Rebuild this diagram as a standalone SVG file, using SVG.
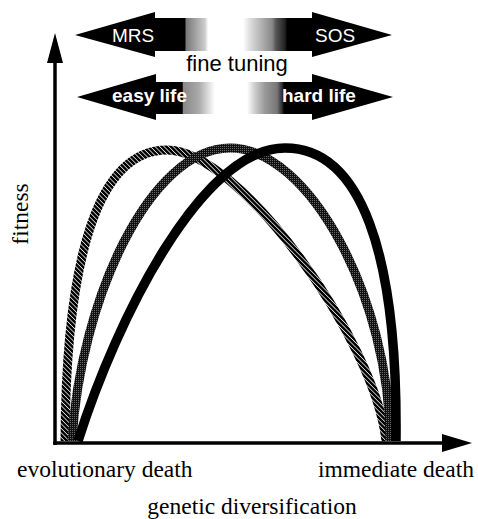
<svg xmlns="http://www.w3.org/2000/svg" width="478" height="519" viewBox="0 0 478 519">
<style>
.sans{font-family:"Liberation Sans",Arial,sans-serif}
.serif{font-family:"Liberation Serif","Times New Roman",serif;font-size:23.5px;fill:#000}
.wt{fill:#fff;font-size:19px}
.bw{fill:#fff;font-size:19px;font-weight:bold}
.axis{stroke:#000;stroke-width:3.5;fill:none}
.curve{fill:none;stroke-linecap:butt}
</style>
<defs>
<linearGradient id="g1" gradientUnits="userSpaceOnUse" x1="75" y1="0" x2="392" y2="0">
<stop offset="0" stop-color="#000"/>
<stop offset="0.3470" stop-color="#000"/>
<stop offset="0.3502" stop-color="#777"/>
<stop offset="0.4100" stop-color="#ccc"/>
<stop offset="0.4200" stop-color="#fff"/>
<stop offset="0.5300" stop-color="#fff"/>
<stop offset="0.5520" stop-color="#ddd"/>
<stop offset="0.6220" stop-color="#888"/>
<stop offset="0.6340" stop-color="#555"/>
<stop offset="0.6620" stop-color="#222"/>
<stop offset="0.6700" stop-color="#000"/>
<stop offset="1" stop-color="#000"/>
</linearGradient>
<linearGradient id="g2" gradientUnits="userSpaceOnUse" x1="77" y1="0" x2="393" y2="0">
<stop offset="0" stop-color="#000"/>
<stop offset="0.3330" stop-color="#000"/>
<stop offset="0.3365" stop-color="#888"/>
<stop offset="0.3860" stop-color="#aaa"/>
<stop offset="0.4360" stop-color="#fff"/>
<stop offset="0.5380" stop-color="#fff"/>
<stop offset="0.5630" stop-color="#ccc"/>
<stop offset="0.5950" stop-color="#999"/>
<stop offset="0.6330" stop-color="#777"/>
<stop offset="0.6480" stop-color="#333"/>
<stop offset="0.6560" stop-color="#000"/>
<stop offset="1" stop-color="#000"/>
</linearGradient>
<pattern id="hatch" patternUnits="userSpaceOnUse" width="3.2" height="3.2" patternTransform="rotate(-45)">
<rect width="3.2" height="3.2" fill="#ddd"/>
<rect width="2.4" height="3.2" fill="#000"/>
</pattern>
<pattern id="stip" patternUnits="userSpaceOnUse" width="2" height="2">
<rect width="2" height="2" fill="#111"/>
<rect width="1" height="1" fill="#666"/>
</pattern>
</defs>

<g id="arrow-mrs-sos">
<polygon points="75,35 155,12 155,18 312,18 312,12 392,35 312,57 312,51 155,51 155,57" fill="url(#g1)"/>
<text class="sans wt" x="112" y="42">MRS</text>
<text class="sans wt" x="315" y="42">SOS</text>
</g>

<g id="label-fine-tuning">
<text class="sans" x="237" y="71" font-size="22" text-anchor="middle" fill="#000">fine tuning</text>
</g>

<g id="arrow-easy-hard">
<polygon points="77,97 156,74 156,82 312,82 312,74 393,97 312,120 312,114 156,114 156,120" fill="url(#g2)"/>
<text class="sans bw" x="112" y="102">easy life</text>
<text class="sans bw" x="282" y="102">hard life</text>
</g>

<g id="curves">
<path id="curve-hatched" class="curve" stroke="url(#hatch)" stroke-width="9" d="M65,441 C66,260 97,150 167,150 C240,150 375,340 386,441"/>
<path id="curve-stippled" class="curve" stroke="url(#stip)" stroke-width="9" d="M72,441 C80,300 150,148 230,148 C310,148 390,300 390,441"/>
<path id="curve-black" class="curve" stroke="#000" stroke-width="9.5" d="M78,441 C117,318 202,148 285,148 C360,148 398,250 396,441"/>
</g>

<g id="axes">
<line class="axis" x1="55" y1="445" x2="55" y2="58"/>
<polygon points="55,33 47,63 63,63" fill="#000"/>
<line class="axis" x1="53.3" y1="443" x2="446" y2="443"/>
<polygon points="472,443 442,434 442,452" fill="#000"/>
</g>

<g id="labels">
<text class="serif" transform="translate(28,214) rotate(-90)" text-anchor="middle">fitness</text>
<text class="serif" x="17" y="477">evolutionary death</text>
<text class="serif" x="318" y="477">immediate death</text>
<text class="serif" x="252" y="514" text-anchor="middle">genetic diversification</text>
</g>
</svg>
